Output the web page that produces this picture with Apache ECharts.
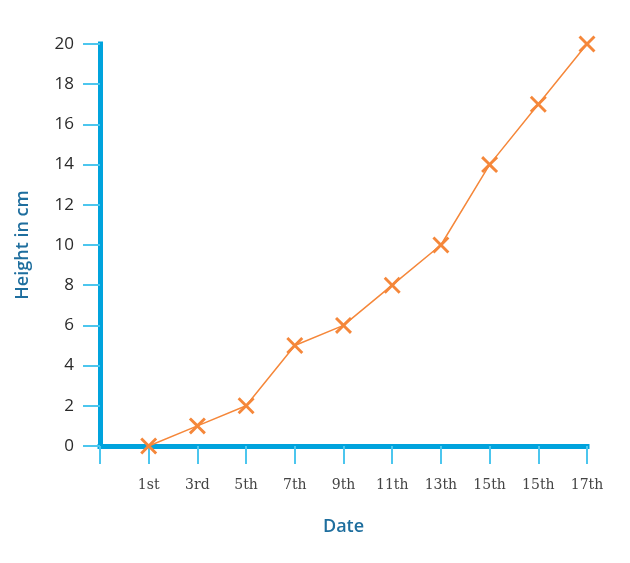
<!DOCTYPE html>
<html>
<head>
<meta charset="utf-8">
<script src="https://cdn.jsdelivr.net/npm/echarts@6/dist/echarts.min.js"></script>
<style>
  html, body { margin: 0; padding: 0; background: #fff; }
  #chart { width: 630px; height: 563px; }
</style>
</head>
<body>
<div id="chart"></div>
<script>
// categories (first one is the empty slot at the y axis)
var dates = ['', '1st', '3rd', '5th', '7th', '9th', '11th', '13th', '15th', '15th', '17th'];
var heights = [null, 0, 1, 2, 5, 6, 8, 10, 14, 17, 20];
var yTicks = [0, 2, 4, 6, 8, 10, 12, 14, 16, 18, 20];

var axisBlue = '#00a3dd';
var tickBlue = '#4cc6ee';
var titleBlue = '#1e6e9e';
var orange = '#f5873a';

// X marker drawn as a filled cross
var cross = 'path://M0,1.2 L1.2,0 L5,3.8 L8.8,0 L10,1.2 L6.2,5 L10,8.8 L8.8,10 L5,6.2 L1.2,10 L0,8.8 L3.8,5 Z';

var myChart = echarts.init(document.getElementById('chart'));

myChart.setOption({
    animation: false,
    grid: {
        left: 100,
        right: 43,
        top: 44,
        bottom: 117
    },
    xAxis: {
        type: 'category',
        data: dates,
        boundaryGap: false,
        name: 'Date',
        nameLocation: 'middle',
        nameGap: 72,
        nameTextStyle: {
            color: titleBlue,
            fontSize: 18,
            fontWeight: 600,
            fontFamily: 'Open Sans'
        },
        axisLine: { lineStyle: { color: axisBlue, width: 5, cap: 'square' } },
        axisTick: {
            alignWithLabel: true,
            length: 18,
            lineStyle: { color: tickBlue, width: 2 }
        },
        axisLabel: {
            interval: 0,
            margin: 32,
            color: '#444',
            fontSize: 14,
            fontFamily: 'DejaVu Serif'
        },
        splitLine: { show: false }
    },
    yAxis: {
        type: 'value',
        min: yTicks[0],
        max: yTicks[yTicks.length - 1],
        interval: 2,
        name: 'Height in cm',
        nameLocation: 'middle',
        nameGap: 68,
        nameRotate: 90,
        nameTextStyle: {
            color: titleBlue,
            fontSize: 18,
            fontWeight: 600,
            fontFamily: 'Open Sans'
        },
        axisLine: { show: true, lineStyle: { color: axisBlue, width: 5, cap: 'square' } },
        axisTick: {
            show: true,
            length: 17,
            lineStyle: { color: tickBlue, width: 2 }
        },
        axisLabel: {
            margin: 26,
            color: '#2a2a2a',
            fontSize: 17,
            fontFamily: 'Open Sans'
        },
        splitLine: { show: false }
    },
    series: [{
        type: 'line',
        data: heights,
        symbol: cross,
        symbolSize: 17,
        lineStyle: { color: orange, width: 1.5 },
        itemStyle: { color: orange },
        z: 5
    }]
});
</script>
</body>
</html>
